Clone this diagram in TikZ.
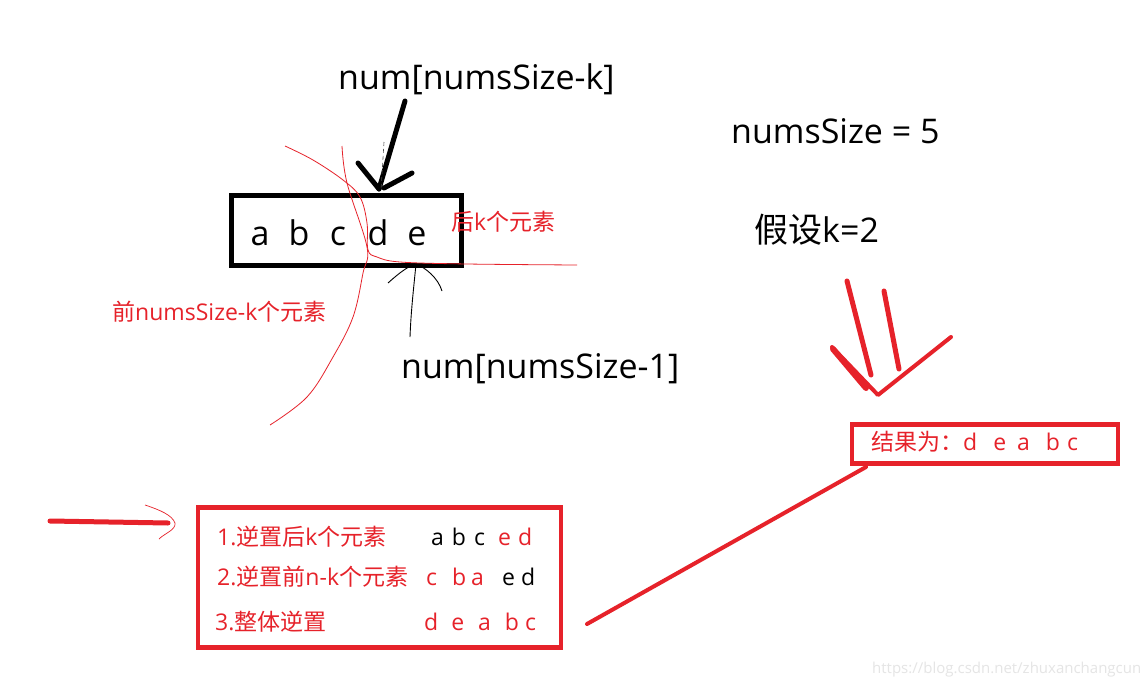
\documentclass[tikz,border=0pt]{standalone}
\usepackage{fontspec}
\setmainfont{Open Sans}
\newfontfamily\zh{Noto Sans CJK SC}
\definecolor{myred}{RGB}{230,34,42}
\begin{document}
\begin{tikzpicture}[x=1pt,y=-1pt,
  txt/.style={inner sep=0pt, anchor=base west},
  bigtxt/.style={txt, font=\fontsize{34}{37}\selectfont},
  redtxt/.style={txt, text=myred, font=\fontsize{23}{27}\selectfont},
  blktxt/.style={txt, text=black, font=\fontsize{23}{27}\selectfont},
  thinred/.style={myred, line width=0.8pt},
  thickred/.style={myred, line width=5pt, line cap=round},
  redbox/.style={draw=myred, line width=4.5pt, inner sep=0pt},
  blkarrow/.style={black, line width=5pt, line cap=round}]
\useasboundingbox[fill=white] (0,0) rectangle (1143,685);

% top labels
\node[bigtxt] (numk) at (338,89) {num[numsSize-k]};
\node[bigtxt] (num1) at (401,378) {num[numsSize-1]};
\node[bigtxt] (nsize) at (731,143) {numsSize = 5};
\node[bigtxt] (kval) at (754,242) {{\zh 假设}k=2};

% black box with letters
\node[draw, line width=5pt, minimum width=230pt, minimum height=70pt, inner sep=0pt] (box) at (346.5,230.5) {};
\node[bigtxt, anchor=base] (la) at (260,245) {a};
\node[bigtxt, anchor=base] (lb) at (299,245) {b};
\node[bigtxt, anchor=base] (lc) at (338,245) {c};
\node[bigtxt, anchor=base] (ld) at (378,245) {d};
\node[bigtxt, anchor=base] (le) at (417,245) {e};

% red annotations
\node[redtxt] (lastk) at (451,230) {{\zh 后}k{\zh 个元素}};
\node[redtxt] (firstk) at (112,320) {{\zh 前}numsSize-k{\zh 个元素}};

% thin red split curves
\draw[thinred] plot[smooth, tension=0.6] coordinates {(285,146) (313,160) (343,180) (360,197) (367,223) (368,250) (377,257) (400,262) (467,264) (577,265)};
\draw[thinred] plot[smooth, tension=0.6] coordinates {(342,146) (347,183) (367,247) (363,273) (353,317) (333,357) (307,397) (270,425)};

% thick black arrow into box
\coordinate (ktail) at (405,101);
\coordinate (ktip) at (379,189);
\coordinate (khl) at (358,163);
\coordinate (khr) at (412,173);
\draw[blkarrow] (ktail) -- (ktip);
\draw[blkarrow] (khl) -- (ktip);
\draw[blkarrow] (khr) -- (384,188);
\coordinate (dsa) at (384,142);
\coordinate (dsb) at (381,190);
\draw[black!70, line width=0.6pt, dash pattern=on 4pt off 3pt] (dsa) -- (dsb);

% thin black arrow from num[numsSize-1]
\coordinate (ntail) at (410,337);
\coordinate (ntip) at (416,264);
\coordinate (nhl) at (388,283);
\coordinate (nhr) at (442,291);
\draw[black, line width=0.9pt] (ntail) .. controls (411,310) and (414,285) .. (ntip);
\draw[black, line width=0.9pt] (nhl) .. controls (398,274) and (408,266) .. (ntip);
\draw[black, line width=0.9pt] (nhr) .. controls (438,278) and (426,268) .. (ntip);

% red strokes pointing to result
\coordinate (s1a) at (847,281);
\coordinate (s1b) at (871,375);
\coordinate (s2a) at (884,291);
\coordinate (s2b) at (899,369);
\coordinate (va) at (832,347);
\coordinate (vb) at (878,395);
\coordinate (vc) at (951,337);
\draw[thickred] (s1a) -- (s1b);
\draw[thickred] (s2a) -- (s2b);
\draw[thickred, line width=4pt, line join=round] (va) -- (vb) -- (vc);
\draw[thickred, line width=6pt] (833,349) -- (866,388);

% result box
\node[redbox, minimum width=266pt, minimum height=39pt] (res) at (985,444) {};
\node[redtxt] (restxt) at (871,450) {{\zh 结果为：}d\hspace{16pt}e\hspace{11pt}a\hspace{16pt}b\hspace{7pt}c};

% steps box
\node[redbox, minimum width=363pt, minimum height=140pt] (steps) at (379.5,577.5) {};
\node[redtxt] (st1) at (217,545) {1.{\zh 逆置后}k{\zh 个元素}};
\node[blktxt] (st1a) at (431,545) {a\hspace{8pt}b\hspace{8pt}c};
\node[redtxt] (st1b) at (498,545) {e\hspace{7pt}d};
\node[redtxt] (st2) at (217,585) {2.{\zh 逆置前}n-k{\zh 个元素}};
\node[redtxt] (st2a) at (426,585) {c\hspace{15pt}b\hspace{5pt}a};
\node[blktxt] (st2b) at (502,585) {e\hspace{6pt}d};
\node[redtxt] (st3) at (215,630) {3.{\zh 整体逆置}};
\node[redtxt] (st3a) at (424,630) {d\hspace{13pt}e\hspace{14pt}a\hspace{14pt}b\hspace{6pt}c};

% connector from steps box to result box
\coordinate (lnA) at (587,624);
\coordinate (lnB) at (866,467);
\draw[myred, line width=4pt, line cap=round] (lnA) -- (lnB);

% left red arrow
\coordinate (la1) at (50,521);
\coordinate (la2) at (168,523);
\draw[thickred] (la1) -- (la2);
\coordinate (sq1) at (145,505);
\coordinate (sq2) at (175,523);
\coordinate (sq3) at (159,539);
\draw[myred, line width=0.7pt] (sq1) .. controls (160,510) and (172,515) .. (sq2) .. controls (176,530) and (165,533) .. (sq3);

% watermark
\node[txt, text=black!10, font=\fontsize{15}{18}\selectfont] (wm) at (872,673) {https://blog.csdn.net/zhuxanchangcun};
\end{tikzpicture}
\end{document}
